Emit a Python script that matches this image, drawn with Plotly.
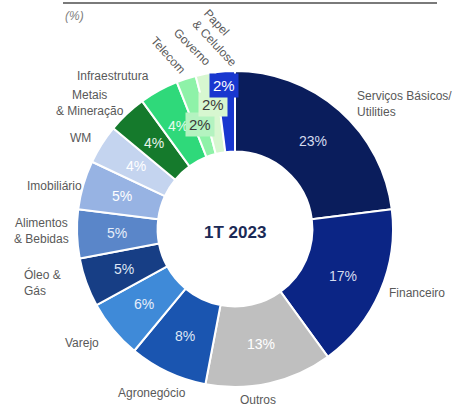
import math
import plotly.graph_objects as go

# Sector breakdown, 1T 2023 (%), clockwise from 12 o'clock
sectors = [
    "Serviços Básicos/<br>Utilities", "Financeiro", "Outros", "Agronegócio",
    "Varejo", "Óleo &<br>Gás", "Alimentos<br>& Bebidas", "Imobiliário", "WM",
    "Metais<br>& Mineração", "Infraestrutura", "Telecom", "Governo",
    "Papel<br>& Celulose",
]
shares = [23, 17, 13, 8, 6, 5, 5, 5, 4, 4, 4, 2, 2, 2]

colors = [
    "#0a1d5c", "#0b2585", "#bfbfbf", "#1a55b0", "#3f8ad8", "#173e85",
    "#5a86c9", "#97b3e3", "#c4d4ef", "#157a2c", "#2fd97a", "#8ef2a8",
    "#d7f7d0", "#1937cf",
]
pct_colors = [
    "#d5dbee", "#d5dbee", "#ffffff", "#dfe6f5", "#e6eefa", "#dfe6f5",
    "#e6eefa", "#ffffff", "#ffffff", "#eaf5ec", "#e9fbef", "#3a3a3a",
    "#3a3a3a", "#ffffff",
]

W, H = 453, 407
CX, CY, R = 235, 229, 158
HOLE = 0.49


def px(x):
    return x / W


def py(y):
    return 1 - y / H


fig = go.Figure(go.Pie(
    labels=sectors,
    values=shares,
    sort=False,
    direction="clockwise",
    rotation=0,
    hole=HOLE,
    marker=dict(colors=colors, line=dict(color="white", width=2)),
    textinfo="none",
    hoverinfo="label+percent",
    showlegend=False,
    domain=dict(x=[px(CX - R), px(CX + R)], y=[py(CY + R), py(CY - R)]),
))

values_ann = []
tags_ann = []

# value labels at the middle of each ring segment, on its mid-angle
total = sum(shares)
r_mid = R * (1 + HOLE) / 2
boxed = {11: (200, 125, "#b4f3c0"), 12: (213, 105, "#d7f7d0"), 13: (224, 85, "#1937cf")}
cum = 0
for i, v in enumerate(shares):
    theta = 2 * math.pi * (cum + v / 2) / total
    cum += v
    pct_font = dict(family="Liberation Sans, Arial", size=14, color=pct_colors[i])
    if i in boxed:
        # thin slices: boxed tags stacked above the ring
        bx, by, bg = boxed[i]
        tags_ann.append(dict(
            x=px(bx), y=py(by), xref="paper", yref="paper", showarrow=False,
            xanchor="center", yanchor="middle",
            text=f"{v}%", bgcolor=bg, borderpad=3,
            font=dict(pct_font, size=15),
        ))
        continue
    tx = CX + r_mid * math.sin(theta)
    ty = CY - r_mid * math.cos(theta)
    values_ann.append(dict(
        x=px(tx), y=py(ty), xref="paper", yref="paper", showarrow=False,
        xanchor="center", yanchor="middle",
        text=f"{v}%", font=pct_font,
    ))
# tags drawn last so they sit on top of the neighbouring values
annotations = values_ann + tags_ann

# category labels around the ring: (x, y, xanchor, align, angle)
label_place = [
    (355, 104, "left", "left", 0),
    (387, 293, "left", "left", 0),
    (258, 400, "center", "center", 0),
    (152, 393, "center", "center", 0),
    (82, 343, "center", "center", 0),
    (22, 282, "left", "left", 0),
    (41, 231, "center", "center", 0),
    (54, 186, "center", "center", 0),
    (80, 138, "center", "center", 0),
    (90, 103, "center", "center", 0),
    (113, 76, "center", "center", 0),
    (168, 55, "center", "center", 48),
    (192, 47, "center", "center", 45),
    (220, 38, "center", "left", 47),
]
for name, (lx, ly, xa, al, ang) in zip(sectors, label_place):
    annotations.append(dict(
        x=px(lx), y=py(ly), xref="paper", yref="paper", showarrow=False,
        text=name, xanchor=xa, yanchor="middle", align=al, textangle=ang,
        font=dict(family="Liberation Sans, Arial", size=12, color="#595959"),
    ))

annotations.append(dict(
    x=px(CX), y=py(232), xref="paper", yref="paper", showarrow=False,
    xanchor="center", yanchor="middle",
    text="<b>1T 2023</b>",
    font=dict(family="Liberation Sans, Arial", size=17, color="#1b2a56"),
))
annotations.append(dict(
    x=px(63), y=py(16), xref="paper", yref="paper", showarrow=False,
    text="<i>(%)</i>", xanchor="left", yanchor="middle",
    font=dict(family="Liberation Sans, Arial", size=12, color="#7f7f7f"),
))

fig.update_layout(
    width=W, height=H,
    margin=dict(l=0, r=0, t=0, b=0),
    paper_bgcolor="white", plot_bgcolor="white",
    annotations=annotations,
    shapes=[dict(type="line", xref="paper", yref="paper",
                 x0=px(63), x1=px(437), y0=py(3), y1=py(3),
                 line=dict(color="#7a7a7a", width=2))],
)

fig.write_html("out.html")
